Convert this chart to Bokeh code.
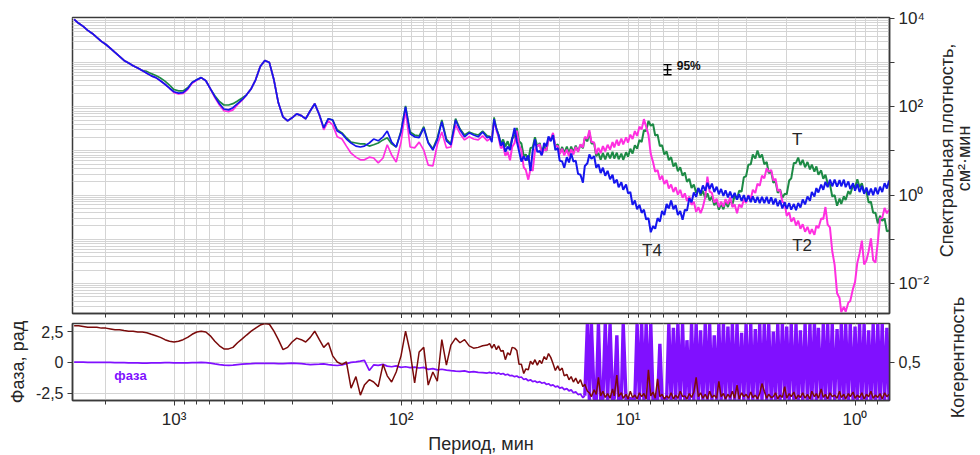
import numpy as np
from bokeh.plotting import figure
from bokeh.models import Range1d, FixedTicker, CustomJSTickFormatter, LinearAxis, Label
from bokeh.layouts import column, row
from bokeh.embed import file_html
from bokeh.resources import INLINE

# ---------------- data ----------------
period_min = [
    2754, 2630, 2512, 2399, 2291, 2188, 2089, 1995, 1905, 1820,
    1738, 1660, 1585, 1514, 1445, 1380, 1318, 1259, 1202, 1148,
    1096, 1047, 1000, 955, 912, 871, 832, 794, 759, 724,
    692, 661, 631, 603, 575, 550, 525, 501, 479, 457,
    437, 417, 398, 380, 363, 347, 331, 316, 302, 288,
    275, 263, 251, 240, 229, 219, 209, 200, 191, 182,
    174, 166, 158, 151, 145, 138, 132, 126, 120, 115,
    110, 105, 100, 95.5, 91.2, 87.1, 83.2, 79.4, 75.9, 72.4,
    69.2, 66.1, 63.1, 60.3, 57.5, 55.0, 52.5, 50.1, 47.9, 45.7,
    43.7, 41.7,
    40.7, 39.8, 38.9, 38.0, 37.2, 36.3, 35.5, 34.7, 33.9, 33.1,
    32.4, 31.6, 30.9, 30.2, 29.5, 28.8, 28.2, 27.5, 26.9, 26.3,
    25.7, 25.1, 24.5, 24.0, 23.4, 22.9, 22.4, 21.9, 21.4, 20.9,
    20.4, 20.0, 19.5, 19.1, 18.6, 18.2, 17.8, 17.4, 17.0, 16.6,
    16.2, 15.8, 15.5, 15.1, 14.8, 14.5, 14.1, 13.8, 13.5, 13.2,
    12.9, 12.6, 12.3, 12.0, 11.7, 11.5, 11.2, 11.0, 10.7, 10.5,
    10.2, 10.0, 9.77, 9.55, 9.33, 9.12, 8.91, 8.71, 8.51, 8.32,
    8.13, 7.94, 7.76, 7.59, 7.41, 7.24, 7.08, 6.92, 6.76, 6.61,
    6.46, 6.31, 6.17, 6.03, 5.89, 5.75, 5.62, 5.50, 5.37, 5.25,
    5.13, 5.01, 4.90, 4.79, 4.68, 4.57, 4.47, 4.37, 4.27, 4.17,
    4.07, 3.98, 3.89, 3.80, 3.72, 3.63, 3.55, 3.47, 3.39, 3.31,
    3.24, 3.16, 3.09, 3.02, 2.95, 2.88, 2.82, 2.75, 2.69, 2.63,
    2.57, 2.51, 2.45, 2.40, 2.34, 2.29, 2.24, 2.19, 2.14, 2.09,
    2.04, 2.00, 1.95, 1.91, 1.86, 1.82, 1.78, 1.74, 1.70, 1.66,
    1.62, 1.58, 1.55, 1.51, 1.48, 1.45, 1.41, 1.38, 1.35, 1.32,
    1.29, 1.26, 1.23, 1.20, 1.17, 1.15, 1.12, 1.10, 1.07, 1.05,
    1.02, 1.00, 0.977, 0.955, 0.933, 0.912, 0.891, 0.871, 0.851, 0.832,
    0.813, 0.794, 0.776, 0.759, 0.741, 0.724, 0.708,
]

# spectral density, log10(cm^2*min)
log10_psd_T = [  # green
    3.98, 3.89, 3.82, 3.73, 3.66, 3.57, 3.48, 3.41, 3.32, 3.23,
    3.14, 3.05, 2.99, 2.93, 2.88, 2.82, 2.80, 2.75, 2.71, 2.65,
    2.58, 2.49, 2.39, 2.36, 2.36, 2.43, 2.55, 2.61, 2.66, 2.59,
    2.41, 2.25, 2.12, 2.04, 2.04, 2.07, 2.13, 2.20, 2.27, 2.41,
    2.61, 2.91, 3.05, 3.00, 2.61, 2.09, 1.77, 1.68, 1.75, 1.84,
    1.80, 1.73, 1.91, 2.07, 1.82, 1.52, 1.73, 1.70, 1.48, 1.41,
    1.30, 1.20, 1.18, 1.16, 1.16, 1.11, 1.14, 1.18, 1.25, 1.30,
    1.16, 1.09, 1.45, 2.02, 1.43, 1.36, 1.34, 1.55, 1.20, 1.05,
    1.30, 1.70, 1.27, 1.16, 1.73, 1.50, 1.36, 1.43, 1.39, 1.36,
    1.45, 1.34,
    1.33, 1.30, 1.76, 1.52, 1.38, 1.16, 1.26, 1.10, 1.22, 1.06,
    1.30, 1.31, 1.52, 1.22, 1.17, 0.88, 0.92, 0.78, 1.07, 1.08,
    1.31, 1.10, 1.18, 0.98, 1.10, 1.00, 1.28, 1.25, 1.38, 1.10,
    1.15, 0.95, 1.09, 0.95, 1.10, 0.94, 1.10, 0.97, 1.12, 0.99,
    1.14, 1.06, 1.29, 1.22, 1.42, 1.17, 1.17, 0.88, 0.95, 0.80,
    0.95, 0.81, 0.96, 0.83, 0.98, 0.83, 0.96, 0.81, 0.94, 0.80,
    0.97, 0.87, 1.05, 0.94, 1.13, 1.05, 1.25, 1.20, 1.47, 1.45,
    1.68, 1.57, 1.61, 1.35, 1.37, 1.11, 1.13, 0.92, 0.99, 0.79,
    0.86, 0.65, 0.73, 0.54, 0.63, 0.44, 0.51, 0.30, 0.37, 0.16,
    0.24, 0.05, 0.16, -0.01, 0.10, -0.07, 0.04, -0.12, -0.03, -0.23,
    -0.15, -0.33, -0.20, -0.32, -0.15, -0.27, -0.11, -0.21, -0.01, -0.09,
    0.10, 0.08, 0.40, 0.43, 0.69, 0.70, 0.92, 0.83, 1.01, 0.85,
    0.92, 0.70, 0.75, 0.50, 0.53, 0.28, 0.31, 0.05, 0.13, -0.06,
    0.03, 0.02, 0.33, 0.38, 0.73, 0.73, 0.85, 0.68, 0.80, 0.63,
    0.75, 0.58, 0.69, 0.53, 0.65, 0.46, 0.56, 0.37, 0.46, 0.26,
    0.25, -0.03, 0.00, -0.24, -0.08, -0.20, -0.03, -0.11, 0.09, 0.02,
    0.23, 0.16, 0.36, 0.18, 0.27, 0.07, 0.09, -0.17, -0.15, -0.40,
    -0.40, -0.64, -0.47, -0.58, -0.53, -0.82, -0.80,
]

log10_psd_T2 = [  # magenta
    3.98, 3.89, 3.82, 3.73, 3.66, 3.57, 3.48, 3.41, 3.32, 3.23,
    3.14, 3.05, 2.99, 2.93, 2.88, 2.82, 2.76, 2.70, 2.66, 2.59,
    2.51, 2.42, 2.32, 2.29, 2.30, 2.39, 2.53, 2.60, 2.66, 2.59,
    2.41, 2.21, 2.04, 1.91, 1.89, 1.93, 2.05, 2.15, 2.27, 2.41,
    2.61, 2.91, 3.05, 3.00, 2.61, 2.09, 1.77, 1.68, 1.75, 1.84,
    1.80, 1.73, 1.91, 2.07, 1.82, 1.48, 1.68, 1.59, 1.32, 1.27,
    1.11, 0.95, 0.86, 0.80, 0.80, 0.86, 0.84, 0.73, 0.84, 1.14,
    0.91, 0.75, 1.20, 1.93, 1.09, 1.07, 1.20, 1.02, 0.68, 0.66,
    1.14, 1.43, 1.07, 1.09, 1.59, 1.39, 1.25, 1.32, 1.27, 1.25,
    1.34, 1.23,
    1.27, 1.26, 1.68, 1.46, 1.31, 1.06, 1.12, 0.89, 0.98, 0.79,
    1.09, 1.18, 1.46, 1.13, 1.01, 0.63, 0.57, 0.35, 0.59, 0.55,
    1.02, 1.11, 1.15, 0.91, 1.04, 1.01, 1.27, 1.25, 1.41, 1.10,
    1.11, 0.93, 1.05, 0.90, 1.03, 0.88, 1.04, 0.92, 1.09, 0.98,
    1.15, 1.08, 1.32, 1.28, 1.47, 1.21, 1.19, 0.93, 1.07, 0.95,
    1.11, 0.99, 1.14, 1.03, 1.20, 1.08, 1.25, 1.12, 1.28, 1.15,
    1.31, 1.19, 1.37, 1.27, 1.45, 1.34, 1.55, 1.49, 1.72, 1.55,
    1.37, 0.93, 0.75, 0.53, 0.57, 0.35, 0.44, 0.25, 0.34, 0.15,
    0.24, 0.07, 0.18, 0.01, 0.12, -0.06, 0.04, -0.13, -0.03, -0.22,
    -0.15, -0.38, -0.27, -0.41, -0.27, -0.05, 0.42, 0.08, 0.05, -0.17,
    -0.08, -0.27, -0.15, -0.26, -0.09, -0.20, -0.05, -0.27, -0.21, -0.41,
    -0.21, -0.28, -0.10, -0.18, 0.00, -0.10, 0.12, 0.05, 0.26, 0.21,
    0.44, 0.38, 0.61, 0.53, 0.57, 0.33, 0.37, 0.10, 0.12, -0.15,
    -0.19, -0.47, -0.39, -0.60, -0.51, -0.69, -0.58, -0.76, -0.66, -0.83,
    -0.72, -0.88, -0.77, -0.90, -0.69, -0.75, -0.53, -0.54, -0.27, -0.67,
    -0.73, -1.27, -1.58, -2.22, -2.33, -2.65, -2.53, -2.64, -2.43, -2.40,
    -2.11, -1.97, -1.53, -1.32, -1.03, -1.57, -1.48, -1.27, -0.98, -1.47,
    -1.53, -1.07, -0.53, -0.52, -0.29, -0.41, -0.33,
]

log10_psd_T4 = [  # blue
    3.98, 3.89, 3.82, 3.73, 3.66, 3.57, 3.48, 3.41, 3.32, 3.23,
    3.14, 3.05, 2.99, 2.93, 2.88, 2.82, 2.76, 2.70, 2.66, 2.59,
    2.51, 2.42, 2.34, 2.31, 2.32, 2.41, 2.55, 2.61, 2.66, 2.59,
    2.41, 2.23, 2.07, 1.95, 1.93, 1.98, 2.07, 2.16, 2.27, 2.41,
    2.61, 2.91, 3.05, 3.00, 2.61, 2.09, 1.77, 1.68, 1.75, 1.84,
    1.80, 1.73, 1.91, 2.07, 1.82, 1.52, 1.73, 1.70, 1.45, 1.39,
    1.27, 1.18, 1.11, 1.09, 1.11, 1.18, 1.27, 1.23, 1.32, 1.45,
    1.20, 1.09, 1.43, 2.00, 1.39, 1.32, 1.30, 1.52, 1.18, 1.02,
    1.25, 1.66, 1.23, 1.14, 1.70, 1.48, 1.32, 1.41, 1.36, 1.32,
    1.43, 1.30,
    1.32, 1.20, 1.72, 1.50, 1.36, 1.12, 1.20, 0.98, 1.10, 1.02,
    1.26, 1.52, 1.22, 1.00, 0.76, 0.88, 0.78, 0.90, 0.55, 1.00,
    1.26, 0.98, 1.00, 0.90, 1.18, 1.10, 1.33, 1.22, 1.36, 1.02,
    1.07, 0.78, 0.76, 0.62, 0.86, 0.74, 0.94, 0.76, 0.78, 0.48,
    0.46, 0.28, 0.66, 0.72, 0.92, 0.82, 0.88, 0.62, 0.70, 0.50,
    0.62, 0.44, 0.55, 0.36, 0.46, 0.27, 0.35, 0.18, 0.29, 0.12,
    0.24, 0.04, 0.07, -0.22, -0.12, -0.32, -0.22, -0.40, -0.33, -0.55,
    -0.52, -0.84, -0.70, -0.76, -0.52, -0.60, -0.36, -0.45, -0.20, -0.30,
    -0.12, -0.32, -0.23, -0.45, -0.36, -0.56, -0.33, -0.35, -0.07, -0.16,
    0.06, -0.04, 0.16, 0.04, 0.22, 0.10, 0.28, 0.14, 0.26, 0.07,
    0.19, 0.02, 0.14, -0.02, 0.11, -0.05, 0.08, -0.07, 0.05, -0.10,
    0.02, -0.13, 0.00, -0.15, -0.01, -0.16, -0.03, -0.17, -0.04, -0.18,
    -0.04, -0.18, -0.04, -0.19, -0.05, -0.21, -0.08, -0.25, -0.12, -0.30,
    -0.16, -0.31, -0.18, -0.33, -0.20, -0.34, -0.18, -0.28, -0.10, -0.21,
    -0.03, -0.13, 0.07, -0.03, 0.16, 0.06, 0.24, 0.12, 0.30, 0.18,
    0.35, 0.20, 0.35, 0.19, 0.34, 0.20, 0.35, 0.18, 0.31, 0.14,
    0.27, 0.10, 0.25, 0.07, 0.21, 0.03, 0.17, 0.00, 0.15, 0.00,
    0.17, 0.02, 0.19, 0.07, 0.27, 0.15, 0.33,
]

phase_rad = [
    0.02, 0.02, 0.02, 0.01, 0.01, 0.01, 0.00, 0.00, 0.00, -0.01,
    -0.02, -0.02, -0.03, -0.04, -0.04, -0.05, -0.05, -0.04, -0.04, -0.03,
    -0.02, -0.02, -0.03, -0.04, -0.04, -0.03, -0.02, -0.01, 0.00, -0.01,
    -0.05, -0.12, -0.18, -0.22, -0.24, -0.22, -0.18, -0.14, -0.12, -0.10,
    -0.08, -0.07, -0.08, -0.08, -0.07, -0.10, -0.10, -0.08, -0.06, -0.08,
    -0.10, -0.14, -0.18, -0.16, -0.14, -0.12, -0.18, -0.22, -0.25, -0.20,
    -0.10, 0.00, 0.05, 0.10, 0.16, -0.65, -0.20, -0.24, -0.16, -0.30,
    -0.35, -0.28, -0.40, -0.35, -0.42, -0.38, -0.45, -0.40, -0.56, -0.50,
    -0.60, -0.55, -0.62, -0.66, -0.70, -0.72, -0.68, -0.78, -0.74, -0.80,
    -0.82, -0.86,
    -0.80, -0.88, -0.82, -0.92, -0.86, -0.95, -0.90, -1.02, -0.96, -1.08,
    -1.05, -1.15, -1.10, -1.22, -1.18, -1.38, -1.32, -1.48, -1.40, -1.55,
    -1.50, -1.62, -1.55, -1.68, -1.62, -1.78, -1.72, -1.88, -1.82, -1.98,
    -1.92, -2.08, -2.02, -2.20, -2.12, -2.30, -2.22, -2.45, -2.38, -2.60,
    -2.55, -2.85, -2.70, 3.10, -3.10, 3.10, -2.95, -3.05, 3.10, -3.10,
    -2.95, 3.10, -3.10, 3.10, -3.10, -2.90, 2.20, -3.10, -2.95, 3.10,
    -3.10, -3.00, -2.90, -3.05, -2.95, 3.10, -3.10, 3.10, -3.10, 3.10,
    -3.10, 3.10, -3.10, -2.95, -3.05, 1.50, -3.00, -2.90, -3.05, 3.10,
    -3.10, 2.80, -3.10, 3.10, -3.10, 3.10, -3.10, 1.80, -3.10, 3.10,
    -3.10, 3.10, -3.10, 2.60, -3.10, 3.10, -3.10, 3.10, -3.10, 2.20,
    -3.10, 3.10, -3.10, 3.10, -3.10, 2.90, -3.10, 3.10, -3.10, 3.10,
    -3.10, 2.40, -3.10, 3.10, -3.10, 3.10, -3.10, 2.70, -3.10, 3.10,
    -3.10, 3.10, -3.10, 3.10, -3.10, 2.50, -3.10, 3.10, -3.10, 3.10,
    -3.10, 2.90, -3.10, 3.10, -3.10, 3.10, -3.10, 2.60, -3.10, 3.10,
    -3.10, 3.10, -3.10, 3.10, -3.10, 2.80, -3.10, 3.10, -3.10, 3.10,
    -3.10, 3.10, -3.10, 2.70, -3.10, 3.10, -3.10, 3.10, -3.10, 3.10,
    -3.10, 2.90, -3.10, 3.10, -3.10, 3.10, -3.10, 2.60, -3.10, 3.10,
    -3.10, 3.10, -3.10, 3.10, -3.10, 2.80, -3.10,
]

coherence = [
    0.97, 0.97, 0.96, 0.95, 0.95, 0.95, 0.94, 0.94, 0.93, 0.92,
    0.92, 0.91, 0.90, 0.90, 0.89, 0.89, 0.88, 0.86, 0.84, 0.82,
    0.79, 0.77, 0.76, 0.77, 0.79, 0.82, 0.86, 0.89, 0.90, 0.89,
    0.84, 0.77, 0.71, 0.67, 0.67, 0.69, 0.75, 0.80, 0.85, 0.90,
    0.94, 0.98, 1.00, 0.99, 0.90, 0.79, 0.66, 0.69, 0.76, 0.81,
    0.79, 0.76, 0.82, 0.90, 0.79, 0.69, 0.75, 0.58, 0.50, 0.47,
    0.50, 0.16, 0.31, 0.07, 0.20, 0.27, 0.24, 0.18, 0.47, 0.32,
    0.24, 0.37, 0.58, 0.90, 0.63, 0.23, 0.63, 0.69, 0.20, 0.37,
    0.25, 0.79, 0.46, 0.72, 0.81, 0.75, 0.79, 0.71, 0.68, 0.69,
    0.71, 0.72,
    0.74, 0.68, 0.73, 0.66, 0.71, 0.64, 0.65, 0.53, 0.62, 0.59,
    0.69, 0.68, 0.65, 0.47, 0.47, 0.35, 0.41, 0.40, 0.51, 0.47,
    0.53, 0.46, 0.52, 0.48, 0.57, 0.53, 0.61, 0.56, 0.48, 0.39,
    0.45, 0.39, 0.42, 0.32, 0.34, 0.27, 0.31, 0.24, 0.29, 0.22,
    0.27, 0.18, 0.21, 0.12, 0.10, 0.05, 0.14, 0.08, 0.30, 0.06,
    0.12, 0.04, 0.09, 0.03, 0.15, 0.06, 0.33, 0.05, 0.10, 0.03,
    0.08, 0.02, 0.12, 0.04, 0.07, 0.02, 0.10, 0.05, 0.09, 0.02,
    0.40, 0.06, 0.11, 0.03, 0.28, 0.05, 0.08, 0.02, 0.06, 0.03,
    0.10, 0.02, 0.07, 0.03, 0.12, 0.05, 0.06, 0.02, 0.09, 0.04,
    0.11, 0.30, 0.05, 0.10, 0.03, 0.08, 0.02, 0.12, 0.04, 0.07,
    0.03, 0.25, 0.05, 0.09, 0.02, 0.08, 0.04, 0.12, 0.03, 0.20,
    0.02, 0.10, 0.05, 0.08, 0.03, 0.11, 0.04, 0.07, 0.02, 0.09,
    0.22, 0.12, 0.03, 0.08, 0.04, 0.05, 0.10, 0.02, 0.07, 0.04,
    0.18, 0.03, 0.09, 0.05, 0.11, 0.02, 0.07, 0.04, 0.10, 0.03,
    0.08, 0.02, 0.12, 0.05, 0.09, 0.03, 0.15, 0.04, 0.08, 0.02,
    0.10, 0.05, 0.07, 0.03, 0.12, 0.04, 0.08, 0.02, 0.09, 0.05,
    0.11, 0.03, 0.07, 0.04, 0.10, 0.02, 0.08, 0.05, 0.12, 0.03,
    0.07, 0.04, 0.09, 0.02, 0.10, 0.05, 0.08,
]

x_tick_values = [1, 10, 100, 1000]
y_tick_values = [1e-2, 1e-1, 1, 10, 100, 1e3, 1e4]
phase_tick_values = [-2.5, 0, 2.5]
coherence_tick_values = [0.5]

# 95% confidence bar and curve labels
ci_period, ci_low, ci_mid, ci_high = 6.7, 530, 690, 900
curve_labels = [("T", 1.80, 17.8), ("T2", 1.71, 0.073), ("T4", 7.84, 0.056)]

# ---------------- styling ----------------
FONT = "Liberation Sans"
TXT = "#262626"
GRID = "#d4d4d4"
EDGE = "#3a3a3a"
C_T, C_T2, C_T4 = "#1d8a45", "#ff2fe0", "#1515ee"
C_PH, C_COH = "#8010ff", "#7a0a0a"
SPLIT = 96      # start of the densely sampled part
PH_SPLIT = 134  # start of the wrapped-phase part

per = np.array(period_min, dtype=float)
minor_x = [m * 10.0 ** k for k in range(-1, 4) for m in range(2, 10)]
minor_y = [m * 10.0 ** k for k in range(-3, 4) for m in range(2, 10)]

SUP = ("const s = {'-': '\u207b', '0': '\u2070', '1': '\u00b9', '2': '\u00b2', '3': '\u00b3', "
       "'4': '\u2074', '5': '\u2075', '6': '\u2076', '7': '\u2077', '8': '\u2078', '9': '\u2079'};\n"
       "const e = Math.round(Math.log10(tick));\n")
fmt_x = CustomJSTickFormatter(code=SUP + "return '10' + String(e).split('').map(c => s[c]).join('');")
fmt_y = CustomJSTickFormatter(code=SUP + "if (Math.abs(e) % 2 === 1) { return ''; }\n"
                              "return '10' + String(e).split('').map(c => s[c]).join('');")
fmt_comma = CustomJSTickFormatter(code="return tick === 0 ? '0' : tick.toFixed(1).replace('.', ',');")

x_range = Range1d(2800, 0.705)

def style_axis(ax, size="17px"):
    ax.axis_line_color = EDGE
    ax.axis_line_width = 1.5
    ax.major_tick_line_color = EDGE
    ax.minor_tick_line_color = EDGE
    ax.major_tick_in = 0
    ax.minor_tick_in = 0
    ax.major_tick_out = 5
    ax.minor_tick_out = 4
    ax.major_label_text_font = FONT
    ax.major_label_text_font_size = size
    ax.major_label_text_color = TXT
    ax.axis_label_text_font = FONT
    ax.axis_label_text_font_size = "18px"
    ax.axis_label_text_font_style = "normal"
    ax.axis_label_text_color = TXT

# ---------------- top panel ----------------
top = figure(x_axis_type="log", y_axis_type="log", x_range=x_range,
             y_range=Range1d(2.09e-3, 1.05e4), y_axis_location="right",
             frame_width=817, frame_height=296,
             min_border_left=72, min_border_right=45, min_border_top=17, min_border_bottom=5,
             output_backend="svg", toolbar_location=None)
top.outline_line_color = EDGE
top.outline_line_width = 1.5
style_axis(top.xaxis[0])
style_axis(top.yaxis[0])
top.xaxis.ticker = FixedTicker(ticks=x_tick_values, minor_ticks=minor_x)
top.xaxis.formatter = CustomJSTickFormatter(code="return '';")
top.xaxis.major_label_text_font_size = "0px"
top.xaxis.major_label_standoff = 0
top.yaxis.ticker = FixedTicker(ticks=y_tick_values, minor_ticks=minor_y)
top.yaxis.formatter = fmt_y
top.yaxis.minor_tick_line_color = None
top.yaxis.major_label_standoff = 4
for g in (top.xgrid, top.ygrid):
    g.grid_line_color = GRID
    g.minor_grid_line_color = GRID

for arr, col in ((log10_psd_T, C_T), (log10_psd_T2, C_T2), (log10_psd_T4, C_T4)):
    vals = 10.0 ** np.array(arr)
    top.line(per[:SPLIT + 1], vals[:SPLIT + 1], color=col, line_width=1.7)
    top.line(per[SPLIT:], vals[SPLIT:], color=col, line_width=2.0)

cap = 1.042
top.segment(x0=[ci_period, ci_period * cap, ci_period * cap, ci_period * cap],
            y0=[ci_low, ci_low, ci_mid, ci_high],
            x1=[ci_period, ci_period / cap, ci_period / cap, ci_period / cap],
            y1=[ci_high, ci_low, ci_mid, ci_high], color="black", line_width=1.4)
top.add_layout(Label(x=6.1, y=850, text="95%", text_font=FONT, text_font_size="12px",
                     text_font_style="bold", text_color="#111111",
                     text_align="left", text_baseline="middle"))
for txt, px, py in curve_labels:
    top.add_layout(Label(x=px, y=py, text=txt, text_font=FONT, text_font_size="17px",
                         text_color=TXT, text_align="center", text_baseline="middle"))

# ---------------- bottom panel ----------------
bot = figure(x_axis_type="log", x_range=x_range, y_range=Range1d(-3.08, 3.15),
             frame_width=817, frame_height=77,
             min_border_left=72, min_border_right=45, min_border_top=5, min_border_bottom=2,
             output_backend="svg", toolbar_location=None)
bot.extra_y_ranges = {"coh": Range1d(0.0, 1.0)}
bot.outline_line_color = EDGE
bot.outline_line_width = 1.5
style_axis(bot.xaxis[0])
style_axis(bot.yaxis[0], size="16px")
bot.xaxis.ticker = FixedTicker(ticks=x_tick_values, minor_ticks=minor_x)
bot.xaxis.formatter = fmt_x
bot.xaxis.major_label_standoff = 4
bot.xaxis.axis_label = "Период, мин"
bot.xaxis.axis_label_standoff = 2
bot.yaxis.ticker = FixedTicker(ticks=phase_tick_values)
bot.yaxis.formatter = fmt_comma
bot.yaxis.minor_tick_line_color = None
bot.yaxis.axis_label = "Фаза, рад"
bot.yaxis.major_label_standoff = 4
ax_r = LinearAxis(y_range_name="coh", ticker=FixedTicker(ticks=coherence_tick_values),
                  formatter=fmt_comma)
style_axis(ax_r, size="16px")
ax_r.major_label_standoff = 4
bot.add_layout(ax_r, "right")
bot.xgrid.grid_line_color = GRID
bot.xgrid.minor_grid_line_color = GRID
bot.ygrid.grid_line_color = GRID

ph = np.array(phase_rad)
bot.line(per[:PH_SPLIT + 1], ph[:PH_SPLIT + 1], color=C_PH, line_width=1.7)
bot.line(per[PH_SPLIT:], ph[PH_SPLIT:], color=C_PH, line_width=3.4)
bot.line(per, coherence, y_range_name="coh", color=C_COH, line_width=1.5)

bot.add_layout(Label(x=1555, y=-1.05, text="фаза", text_font=FONT, text_font_size="13px",
                     text_font_style="bold", text_color=C_PH,
                     text_align="center", text_baseline="middle"))

# ---------------- right-hand titles (page pixel frame) ----------------
side = figure(width=46, height=455, x_range=Range1d(934, 980), y_range=Range1d(455, 0),
              x_axis_location=None, y_axis_location=None,
              min_border_left=0, min_border_right=0, min_border_top=0, min_border_bottom=0,
              output_backend="svg", toolbar_location=None)
side.outline_line_color = None
side.grid.visible = False
for txt, px, py in (("Спектральная плотность,", 946, 150), ("см²·мин", 963, 158),
                    ("Когерентность", 957, 357)):
    side.add_layout(Label(x=px, y=py, text=txt, angle=np.pi / 2, text_font=FONT,
                          text_font_size="18px", text_color=TXT,
                          text_align="center", text_baseline="middle"))

layout = row(column(top, bot), side)
with open("out.html", "w", encoding="utf-8") as f:
    f.write(file_html(layout, INLINE))
